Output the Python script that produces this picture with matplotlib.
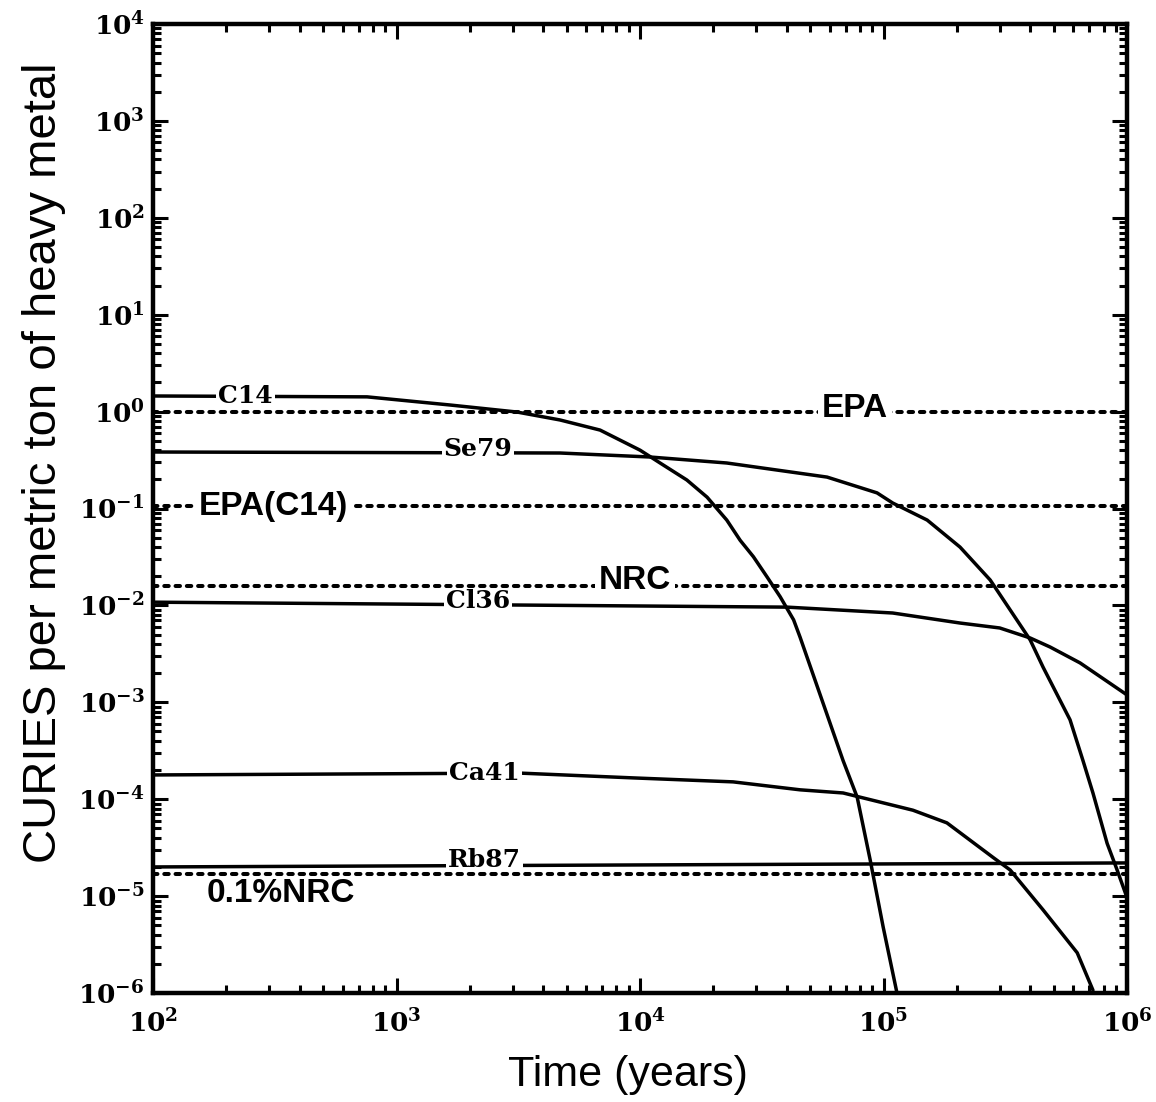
import math
import matplotlib
matplotlib.use('Agg')
import matplotlib.pyplot as plt
from matplotlib.ticker import LogLocator, FixedLocator, FuncFormatter, NullFormatter

plt.rcParams['mathtext.fontset'] = 'dejavuserif'

# activity curves, time in years vs curies per MTHM
c14_t = [100, 757, 1660, 3125, 4690, 6850, 10000, 12080, 15560, 18840, 22700,
         25760, 29200, 33260, 37600, 42700, 45400, 68200, 77900, 88100,
         99600, 113500]
c14_ci = [1.45, 1.42, 1.17, 0.99, 0.82, 0.645, 0.40, 0.295, 0.197, 0.131, 0.076,
          0.047, 0.0318, 0.0196, 0.0123, 0.0071, 0.0047, 2.5e-4, 1.05e-4,
          2.36e-5, 4.8e-6, 1.0e-6]

se79_t = [100, 4690, 11000, 22700, 58600, 94000, 109000, 151000, 206000, 274000,
          400000, 452000, 583000, 659000, 724000, 828000, 910000, 990000]
se79_ci = [0.383, 0.374, 0.34, 0.295, 0.211, 0.145, 0.114, 0.076, 0.040, 0.0183,
           0.0044, 0.0023, 6.6e-4, 2.5e-4, 1.16e-4, 3.5e-5, 1.86e-5, 1.03e-5]

cl36_t = [100, 40200, 109000, 206000, 300000, 400000, 483000, 641000, 1000000]
cl36_ci = [0.0108, 0.0096, 0.00835, 0.00658, 0.00585, 0.00461, 0.00372, 0.00255, 0.00119]

ca41_t = [100, 3210, 9350, 24100, 45400, 68200, 132000, 182000, 282000, 331000,
          452000, 624000, 724000]
ca41_ci = [1.78e-4, 1.86e-4, 1.66e-4, 1.51e-4, 1.25e-4, 1.16e-4, 7.7e-5, 5.7e-5,
           2.5e-5, 1.86e-5, 7.2e-6, 2.6e-6, 1.07e-6]

rb87_t = [100, 1000000]
rb87_ci = [2.0e-5, 2.2e-5]

# regulatory limits (dotted)
epa_limit = 1.0
epa_c14_limit = 0.106
nrc_limit = 0.016
nrc_01_limit = 1.7e-5

x_major = [1e2, 1e3, 1e4, 1e5, 1e6]
y_major = [1e-6, 1e-5, 1e-4, 1e-3, 1e-2, 1e-1, 1e0, 1e1, 1e2, 1e3, 1e4]

fig = plt.figure(figsize=(11.56, 11.02), dpi=100)
ax = fig.add_axes([0.1324, 0.0989, 0.8426, 0.8793])
ax.set_xscale('log')
ax.set_yscale('log')
ax.set_xlim(1e2, 1e6)
ax.set_ylim(1e-6, 1e4)

line_kw = dict(color='black', lw=2.5, solid_capstyle='round', solid_joinstyle='round',
               zorder=2)
for t, ci in [(c14_t, c14_ci), (se79_t, se79_ci), (cl36_t, cl36_ci),
              (ca41_t, ca41_ci), (rb87_t, rb87_ci)]:
    ax.plot(t, ci, **line_kw)

# curve names sit in a white box that breaks the solid line
box = dict(facecolor='white', edgecolor='none', pad=1.5)
serif = dict(family='DejaVu Serif', weight='bold', fontsize=18, ha='center', zorder=3)
ax.text(240, c14_ci[0], 'C14', va='center', bbox=box, **serif)
ax.text(2160, se79_ci[0] * 1.08, 'Se79', va='center', bbox=box, **serif)
ax.text(2160, cl36_ci[0] * 1.04, 'Cl36', va='center', bbox=box, **serif)
ax.text(2300, ca41_ci[0] * 1.05, 'Ca41', va='center', bbox=box, **serif)
ax.text(2300, rb87_ci[0], 'Rb87', va='baseline', bbox=box, **serif)

dot_kw = dict(color='black', lw=2.9, linestyle=(0, (1.1, 1.7)), dash_capstyle='round',
              zorder=4)
for lim in [epa_limit, epa_c14_limit, nrc_limit, nrc_01_limit]:
    ax.plot([1e2, 1e6], [lim, lim], **dot_kw)

sbox = dict(facecolor='white', edgecolor='none', pad=3)
sans = dict(family='Liberation Sans', weight='bold', fontsize=24, ha='center', zorder=5)
ax.text(76400, epa_limit * 1.08, 'EPA', va='center', bbox=sbox, **sans)
ax.text(311, epa_c14_limit, 'EPA(C14)', va='center', bbox=sbox, **sans)
ax.text(9530, nrc_limit * 1.12, 'NRC', va='center', bbox=sbox, **sans)
ax.text(335, nrc_01_limit * 0.9, '0.1%NRC', va='top', **sans)

# ticks on all four sides, pointing in
ax.xaxis.set_major_locator(FixedLocator(x_major))
ax.yaxis.set_major_locator(FixedLocator(y_major))
ax.xaxis.set_minor_locator(LogLocator(base=10, subs=range(2, 10), numticks=20))
ax.yaxis.set_minor_locator(LogLocator(base=10, subs=range(2, 10), numticks=20))
ax.xaxis.set_minor_formatter(NullFormatter())
ax.yaxis.set_minor_formatter(NullFormatter())
fmt = FuncFormatter(lambda v, pos: r'$\mathbf{10^{%d}}$' % round(math.log10(v)))
ax.xaxis.set_major_formatter(fmt)
ax.yaxis.set_major_formatter(fmt)
ax.tick_params(which='both', direction='in', top=True, right=True, width=2.2,
               labelsize=19)
ax.tick_params(axis='y', which='major', length=11, pad=6)
ax.tick_params(axis='x', which='major', length=11, pad=12)
ax.tick_params(which='minor', length=6)
for sp in ax.spines.values():
    sp.set_linewidth(3.2)

fig.text(0.543, 0.0245, 'Time (years)', family='Liberation Sans', fontsize=31,
         ha='center', va='center')
fig.text(0.038, 0.58, 'CURIES per metric ton of heavy metal', family='Liberation Sans',
         fontsize=34, ha='center', va='center', rotation=90)

fig.savefig('out.png', dpi=100)
